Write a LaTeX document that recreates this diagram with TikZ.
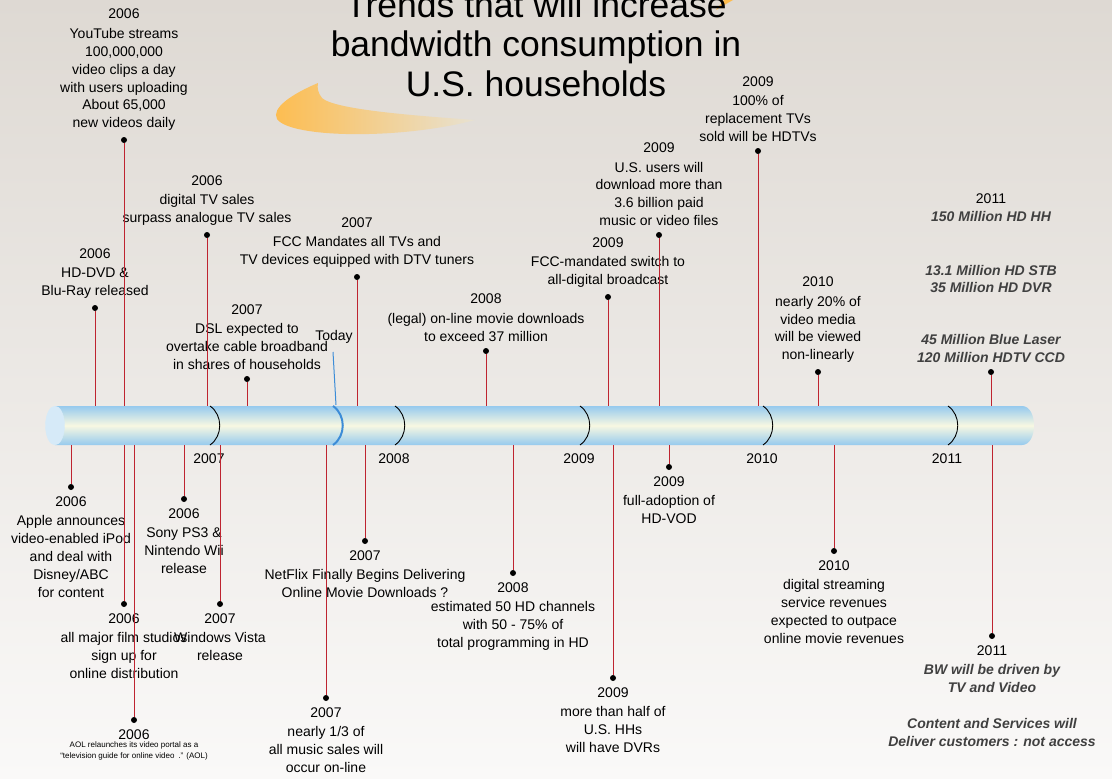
\documentclass[tikz,border=0pt]{standalone}
\usepackage{fontspec}
\setmainfont{Liberation Sans}
\usetikzlibrary{positioning}
\definecolor{stemred}{RGB}{190,36,48}
\definecolor{tubeblue}{RGB}{150,202,238}
\definecolor{tubecream}{RGB}{248,248,226}
\definecolor{tubeend}{RGB}{214,234,248}
\definecolor{todayblue}{RGB}{60,140,215}
\definecolor{statgray}{RGB}{64,64,64}
\definecolor{bgtop}{RGB}{222,217,211}
\definecolor{bgbot}{RGB}{250,249,248}
\definecolor{swoosh}{RGB}{253,188,78}
\definecolor{swooshpale}{RGB}{255,246,205}
\newcommand{\stat}[1]{{\color{statgray}\bfseries\itshape #1}}
\tikzset{
    evt/.style={
        align=center,
        inner sep=0pt,
        font=\fontsize{14}{17.8}\selectfont
    },
    note/.style={
        align=center,
        inner sep=0pt,
        font=\fontsize{8}{11}\selectfont
    },
    headline/.style={
        align=center,
        inner sep=0pt,
        font=\fontsize{35.5}{39.5}\selectfont
    },
    dot/.style={circle, fill=black, inner sep=0pt, minimum size=6pt},
    stem/.style={draw=stemred, line width=0.9pt},
    divider/.style={draw=black, line width=0.9pt},
}

\begin{document}
\begin{tikzpicture}[x=1pt, y=-1pt, node distance=6pt]
    \useasboundingbox (0,0) rectangle (1112,779);
    \shade[top color=bgtop, bottom color=bgbot] (0,0) rectangle (1112,779);

    % swoosh and title
    \shade[left color=swoosh, right color=swooshpale!30!bgtop]
        (318,83) .. controls (292,94) and (271,108) .. (277,119)
        .. controls (290,138) and (400,140) .. (475,120)
        .. controls (420,116) and (335,110) .. (322,98)
        .. controls (318,93) and (317,88) .. (318,83);
    \fill[swoosh] (716,10) .. controls (722,6) and (728,3) .. (733,0)
        -- (724,0) .. controls (721,4) and (718,7) .. (716,10);
    \node[headline, anchor=south] (title) at (536,97)
        {Trends that will increase\\bandwidth consumption in\\U.S. households};

    % the tube
    \coordinate (tubeN) at (0,406);
    \coordinate (tubeS) at (0,445);
    \shade[top color=tubeblue, bottom color=tubeblue, middle color=tubecream]
        (55,406) -- (1022,406) .. controls (1038,406) and (1038,445) .. (1022,445)
        -- (55,445) -- cycle;
    \filldraw[fill=tubeend, draw=tubeend] (55,425.5) ellipse [x radius=9.5, y radius=19.5];
    \foreach \yr/\xx in {2007/210, 2008/395, 2009/580, 2010/763, 2011/948} {
        \draw[divider] (\xx,406) .. controls +(13,9) and +(13,-9) .. (\xx,445);
        \node[evt] (y\yr) at (\xx-1,459) {\yr};
    }
    \draw[todayblue, line width=2pt] (333,406) .. controls +(13,9) and +(13,-9) .. (333,445);
    \node[evt] (today) at (334,337) {Today};
    \coordinate (todayTop) at (333,352);
    \coordinate (todayBot) at (336,405);
    \draw[todayblue, line width=1pt] (todayTop) -- (todayBot);

    % events above the tube
    \node[dot] (dYoutube) at (124,140) {};
    \node[evt, above=of dYoutube] (youtube) {2006\\[2pt]YouTube streams\\100,000,000\\video clips a day\\with users uploading\\About 65,000\\new videos daily};
    \node[dot] (dHddvd) at (95,308) {};
    \node[evt, above=of dHddvd] (hddvd) {2006\\[2pt]HD-DVD \&\\Blu-Ray released};
    \node[dot] (dDigtv) at (207,235) {};
    \node[evt, above=of dDigtv] (digtv) {2006\\[2pt]digital TV sales\\surpass analogue TV sales};
    \node[dot] (dDsl) at (247,379) {};
    \node[evt, above=of dDsl] (dsl) {2007\\[2pt]DSL expected to\\overtake cable broadband\\in shares of households};
    \node[dot] (dFcc) at (357,277) {};
    \node[evt, above=of dFcc] (fcc) {2007\\[2pt]FCC Mandates all TVs and\\TV devices equipped with DTV tuners};
    \node[dot] (dLegal) at (486,351) {};
    \node[evt, above=of dLegal] (legal) {2008\\[2pt](legal) on-line movie downloads\\to exceed 37 million};
    \node[dot] (dSwitch) at (608,297) {};
    \node[evt, above=of dSwitch] (switch) {2009\\[2pt]FCC-mandated switch to\\all-digital broadcast};
    \node[dot] (dUsers) at (659,235) {};
    \node[evt, above=of dUsers] (users) {2009\\[2pt]U.S. users will\\download more than\\3.6 billion paid\\music or video files};
    \node[dot] (dReplace) at (758,151) {};
    \node[evt, above=of dReplace] (replace) {2009\\[2pt]100\% of\\replacement TVs\\sold will be HDTVs};
    \node[dot] (dNonlin) at (818,372) {};
    \node[evt, above=of dNonlin] (nonlin) {2010\\[2pt]nearly 20\% of\\video media\\will be viewed\\non-linearly};
    \node[dot] (dHdhh) at (991,372) {};
    \node[evt, above=of dHdhh] (hdhh) {2011\\\stat{150 Million HD HH}\\[36pt]\stat{13.1 Million HD STB}\\\stat{35 Million HD DVR}\\[34pt]\stat{45 Million Blue Laser}\\\stat{120 Million HDTV CCD}};

    % events below the tube
    \node[dot] (dApple) at (71,487) {};
    \node[evt, below=of dApple] (apple) {2006\\[2pt]Apple announces\\video-enabled iPod\\and deal with\\Disney/ABC\\for content};
    \node[dot] (dSony) at (184,499) {};
    \node[evt, below=of dSony] (sony) {2006\\[2pt]Sony PS3 \&\\Nintendo Wii\\release};
    \node[dot] (dStudios) at (124,604) {};
    \node[evt, below=of dStudios] (studios) {2006\\[2pt]all major film studios\\sign up for\\online distribution};
    \node[dot] (dVista) at (220,604) {};
    \node[evt, below=of dVista] (vista) {2007\\[2pt]Windows Vista\\release};
    \node[dot] (dAol) at (134,720) {};
    \node[evt, below=of dAol] (aol) {2006};
    \node[note, below=2pt of aol] (aolnote) {AOL relaunches its video portal as a\\“television guide for online video\enspace.” (AOL)};
    \node[dot] (dNetflix) at (365,541) {};
    \node[evt, below=of dNetflix] (netflix) {2007\\[2pt]NetFlix Finally Begins Delivering\\Online Movie Downloads ?};
    \node[dot] (dMusic) at (326,698) {};
    \node[evt, below=of dMusic] (music) {2007\\[2pt]nearly 1/3 of\\all music sales will\\occur on-line};
    \node[dot] (dChannels) at (513,573) {};
    \node[evt, below=of dChannels] (channels) {2008\\[2pt]estimated 50 HD channels\\with 50 - 75\% of\\total programming in HD};
    \node[dot] (dDvr) at (613,678) {};
    \node[evt, below=of dDvr] (dvr) {2009\\[2pt]more than half of\\U.S. HHs\\will have DVRs};
    \node[dot] (dVod) at (669,467) {};
    \node[evt, below=of dVod] (vod) {2009\\[2pt]full-adoption of\\HD-VOD};
    \node[dot] (dStream) at (834,551) {};
    \node[evt, below=of dStream] (stream) {2010\\[2pt]digital streaming\\service revenues\\expected to outpace\\online movie revenues};
    \node[dot] (dBw) at (992,636) {};
    \node[evt, below=of dBw] (bw) {2011\\[2pt]\stat{BW will be driven by}\\\stat{TV and Video}\\[17.8pt]\stat{Content and Services will}\\\stat{Deliver customers : not access}};

    % stems
    \foreach \d in {dYoutube, dHddvd, dDigtv, dDsl, dFcc, dLegal, dSwitch, dUsers, dReplace, dNonlin, dHdhh}
        \draw[stem] (\d) -- (\d |- tubeN);
    \foreach \d in {dApple, dSony, dStudios, dVista, dAol, dNetflix, dMusic, dChannels, dDvr, dVod, dStream, dBw}
        \draw[stem] (\d) -- (\d |- tubeS);
\end{tikzpicture}
\end{document}
